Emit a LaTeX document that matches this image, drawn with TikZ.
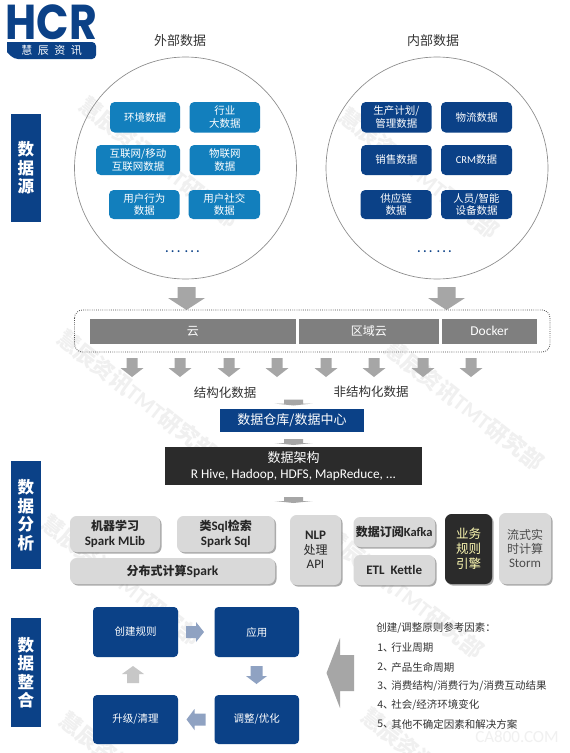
\documentclass[tikz,border=0pt]{standalone}
\usepackage{fontspec}
\setmainfont{Noto Sans CJK SC}
\newfontfamily\latf{Carlito}
\newfontfamily\logof{Poppins}
\usetikzlibrary{shadows}
\definecolor{lblue}{HTML}{127FBD}
\definecolor{dblue}{HTML}{0B4187}
\definecolor{barc}{HTML}{7F7F7F}
\definecolor{arrc}{HTML}{A6A6A6}
\definecolor{lgray}{HTML}{D9D9D9}
\definecolor{wm}{HTML}{F0F0F0}
\definecolor{bluearr}{HTML}{8FA2C2}
\newcommand{\px}[1]{\fontsize{\dimexpr#1pt*3/4\relax}{\dimexpr#1pt*9/10\relax}\selectfont}
\tikzset{
  x=0.75pt,y=-0.75pt,
  bx/.style={inner sep=0pt,outer sep=0pt,align=center},
  cloudbox/.style={bx,rounded corners=3.5pt,text=white},
  lb/.style={cloudbox,fill=lblue,font=\px{10.5}},
  db/.style={cloudbox,fill=dblue,font=\px{10.5}},
  side/.style={bx,fill=dblue,text=white,font=\fontsize{12.4pt}{13.9pt}\selectfont\bfseries},
  bar/.style={bx,fill=barc,text=white,font=\px{12}},
  gb/.style={bx,fill=lgray,rounded corners=5pt,text=black!85,font=\px{12},
    drop shadow={shadow xshift=1.2pt,shadow yshift=-1.2pt,fill=black!60,opacity=.55}},
  pb/.style={bx,fill=dblue,rounded corners=3pt,text=white,font=\px{10.5}},
  ring/.style={draw=black!45,line width=.5pt,fill=none,inner sep=0pt,circle},
  lab/.style={inner sep=0pt,text=black!80},
  wmk/.style={inner sep=0pt,text=wm,font=\px{22}\bfseries,rotate=-38,anchor=west},
  dots/.style={inner sep=0pt,text=dblue,font=\bfseries\px{9}},
}
% name, style, x1, y1, x2, y2, text
\newcommand{\bx}[7]{\node[#2,minimum width={(#5-#3)*0.75pt},minimum height={(#6-#4)*0.75pt}] (#1) at ({(#3+#5)/2},{(#4+#6)/2}) {#7};}
% tip x, tip y, angle, length, head length, shaft width, head width, colour
\newcommand{\barrow}[8]{\fill[#8,shift={(#1,#2)},rotate=#3] (0,0) -- ({-#5},{#7/2}) -- ({-#5},{#6/2}) -- ({-#4},{#6/2}) -- ({-#4},{-#6/2}) -- ({-#5},{-#6/2}) -- ({-#5},{-#7/2}) -- cycle;}
\newcommand{\wmark}[2]{\node[wmk] at (#1,#2) {慧辰资讯{\latf TMT}研究部};}
\newcommand{\sixdots}{.\hspace{2pt}.\hspace{2pt}.\hspace{3.4pt}.\hspace{2pt}.\hspace{2pt}.}
\begin{document}
\begin{tikzpicture}
\useasboundingbox (0,0) rectangle (569,753);
\fill[white] (0,0) rectangle (569,753);
% watermarks
\wmark{60}{335}
\wmark{387}{345}
\wmark{82}{102}
\wmark{342}{113}
\wmark{44}{520}
\wmark{327}{533}
\wmark{62}{717}
\wmark{364}{713}
\node[inner sep=0pt,text=black!6,font=\latf\px{17}] (ca) at (517,737) {CA800.COM};
% logo
\node[inner sep=0pt,text=dblue,font=\logof\px{49}\bfseries,xscale=.87] (hcr) at (51.5,22) {HCR};
\fill[dblue,rounded corners=3pt] (7,42) -- (96,42) -- (96,59) -- (14,59) [sharp corners] -- (7,52) -- cycle;
\node[inner sep=0pt,text=white,font=\px{11}] (hcrcn) at (51.5,50.5) {慧\,\,\,辰\,\,\,资\,\,\,讯};
% sides
\bx{s1}{side}{11}{114}{41}{222}{数\\据\\源}
\bx{s2}{side}{11}{461}{41}{569}{数\\据\\分\\析}
\bx{s3}{side}{11}{618}{41}{727}{数\\据\\整\\合}
% circles
\node[ring,minimum size={222*0.75pt}] (cl) at (185.5,168) {};
\node[ring,minimum size={222*0.75pt}] (cr) at (437,168) {};
\node[lab,font=\px{13}] (tl) at (180,41) {外部数据};
\node[lab,font=\px{13}] (tr) at (433,41) {内部数据};
\bx{l1}{lb}{110}{102}{180}{132.5}{环境数据}
\bx{l2}{lb}{189.5}{102}{260}{132.5}{行业\\大数据}
\bx{l3}{lb}{96}{145}{180}{175}{互联网/移动\\互联网数据}
\bx{l4}{lb}{189.5}{145}{260}{175}{物联网\\数据}
\bx{l5}{lb}{109}{190}{179.5}{219}{用户行为\\数据}
\bx{l6}{lb}{188.5}{190}{260}{219}{用户社交\\数据}
\bx{r1}{db}{361}{102}{431.7}{132.5}{生产计划/\\管理数据}
\bx{r2}{db}{441}{102}{512}{132.5}{物流数据}
\bx{r3}{db}{361}{145}{431.7}{175}{销售数据}
\bx{r4}{db}{441}{145}{512}{175}{{\latf CRM}数据}
\bx{r5}{db}{360.5}{190}{431.7}{219}{供应链\\数据}
\bx{r6}{db}{441}{190}{512}{219}{人员/智能\\设备数据}
\node[dots] (dl) at (182.5,252) {\sixdots};
\node[dots] (dr) at (434.5,252) {\sixdots};
% big arrows
\barrow{186.5}{310}{-90}{23}{12}{18}{37}{arrc}
\barrow{446.5}{310}{-90}{23}{12}{18}{37}{arrc}
% cloud band
\draw[black!70,densely dotted,rounded corners=6pt,line width=.6pt] (74.5,310) rectangle (550,352);
\bx{b1}{bar}{89.5}{319}{296}{343.5}{云}
\bx{b2}{bar}{299}{319}{438.5}{343.5}{区域云}
\bx{b3}{bar}{442}{319}{537}{343.5}{{\latf\px{13.5}Docker}}
\foreach \ax in {132,180,229,277,326,374,423,471}{\barrow{\ax}{377}{-90}{19}{9}{11}{23}{arrc}}
\node[lab,font=\px{12.5}] (st) at (225,392.5) {结构化数据};
\node[lab,font=\px{12.5}] (ust) at (371,392) {非结构化数据};
\barrow{293.5}{405.5}{-90}{6}{2}{19}{38}{arrc}
\bx{wh}{bx,fill=dblue,text=white,font=\px{13}}{220}{409}{364}{432}{数据仓库/数据中心}
\barrow{293.5}{445}{-90}{6}{2}{19}{38}{arrc}
\bx{da}{bx,fill=black!83,text=white,font=\px{13}}{165}{447}{422}{485}{数据架构\\{\latf\px{13.3}R Hive, Hadoop, HDFS, MapReduce, ...}}
\barrow{293.5}{503}{-90}{6}{2}{19}{38}{arrc}
% analysis
\bx{a1}{gb}{70}{516}{160}{552}{\bfseries 机器学习\\{\latf\bfseries\px{13}Spark MLib}}
\bx{a2}{gb}{177}{516}{274.5}{552}{\bfseries 类{\latf\px{13}Sql}检索\\{\latf\bfseries\px{13}Spark Sql}}
\bx{a3}{gb}{70}{558}{275}{584}{\bfseries 分布式计算{\latf\px{13.5}Spark}}
\bx{a4}{gb}{290}{515}{341}{585}{\bfseries {\latf\px{13}NLP}\\处理\\{\latf\px{13}API}}
\bx{a5}{gb}{353.5}{517}{435}{547}{\bfseries 数据订阅{\latf\px{12.5}Kafka}}
\bx{a6}{gb}{353.5}{555}{435}{585}{{\latf\bfseries\px{13}ETL\ \ Kettle}}
\bx{a7}{gb,fill=black!83,text={yellow!30!white},font=\px{12.5}}{445}{514}{492}{584}{业务\\规则\\引擎}
\bx{a8}{gb,text=black!70}{499}{513}{551}{584}{流式实\\时计算\\{\latf\px{13}Storm}}
% process
\bx{p1}{pb}{93}{607}{178}{657}{创建规则}
\bx{p2}{pb}{214.5}{607}{299}{657}{应用}
\bx{p3}{pb}{93}{695}{178}{744}{升级/清理}
\bx{p4}{pb}{214.5}{695}{299}{744}{调整/优化}
\barrow{204}{632}{0}{18}{8}{12}{20}{bluearr}
\barrow{256.5}{684}{-90}{18}{8}{12}{21}{bluearr}
\barrow{186.5}{719.5}{180}{19}{8}{12}{21}{bluearr}
\barrow{133}{666}{90}{17}{8}{12}{22}{black!22}
\barrow{326.5}{673}{180}{27.5}{13.5}{36}{70}{arrc}
% list
\node[lab,anchor=west,font=\px{10.5}] (h) at (376,628) {创建/调整原则参考因素：};
\foreach \yy/\nn/\ttx in {648/1/行业周期,667/2/产品生命周期,686/3/{消费结构/消费行为/消费互动结果},705/4/{社会/经济环境变化},724/5/其他不确定因素和解决方案}{
  \node[lab,anchor=west,font=\px{10.5}] at (377,\yy) {\nn、};
  \node[lab,anchor=west,font=\px{10.5}] at (391,\yy) {\ttx};
}
\end{tikzpicture}
\end{document}
